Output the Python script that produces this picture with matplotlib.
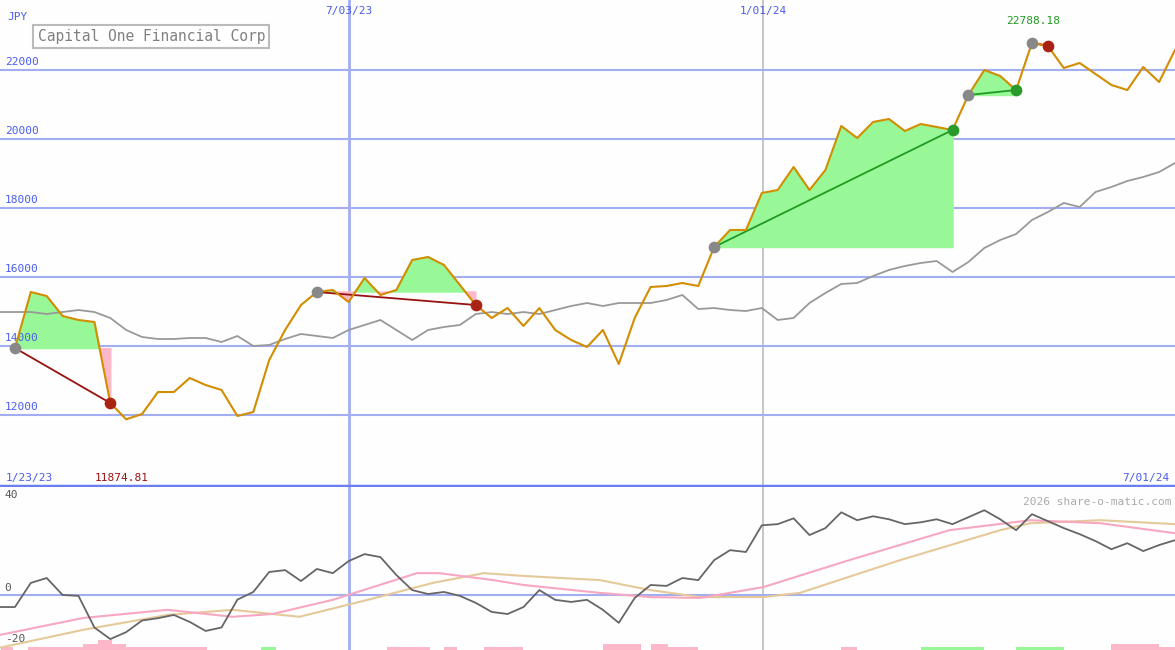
import numpy as np
import matplotlib.pyplot as plt

# weekly closes (JPY), index 0 = first plotted week
price = [13941, 15565, 15449, 14869, 14754, 14696, 12348, 11875, 12029, 12666,
         12666, 13072, 12869, 12725, 11971, 12087, 13594, 14464, 15188, 15565,
         15623, 15275, 15971, 15478, 15623, 16493, 16580, 16348, 15768, 15188,
         14812, 15101, 14580, 15101, 14464, 14174, 13971, 14464, 13478, 14812,
         15710, 15739, 15826, 15739, 16869, 17362, 17362, 18435, 18522, 19188,
         18522, 19101, 20377, 20029, 20493, 20580, 20232, 20435, 20348, 20261,
         21275, 22000, 21826, 21420, 22788, 22696, 22058, 22203, 21884, 21565,
         21420, 22087, 21652, 22580]
# moving average, index -1 .. 73
ma = [14985, 14985, 14985, 14927, 14985, 15043, 14985, 14812, 14464, 14261, 14203,
      14203, 14232, 14232, 14116, 14290, 14000, 14029, 14203, 14348, 14290,
      14232, 14464, 14609, 14754, 14464, 14174, 14464, 14551, 14609, 14927,
      14985, 14927, 14985, 14927, 15043, 15159, 15246, 15159, 15246, 15246,
      15246, 15333, 15478, 15072, 15101, 15043, 15014, 15101, 14754, 14812,
      15246, 15536, 15797, 15826, 16029, 16203, 16319, 16406, 16464, 16145,
      16435, 16840, 17072, 17246, 17652, 17884, 18145, 18029, 18464, 18609,
      18783, 18899, 19043, 19304, 19768]
# oscillator, index -1 .. 73
osc = [-5.2, -5.2, 5.2, 7.3, 0, -0.4, -14, -19, -16, -11, -10, -8.6, -11.6, -15.5,
       -14, -2, 1.3, 9.9, 10.7, 6, 11.2, 9.4, 14.6, 17.6, 16.3, 8.6, 2.1, 0.4,
       1.3, -0.4, -3.4, -7.3, -8.2, -5.2, 2.1, -2.1, -3, -2.1, -6.4, -12, -1.3,
       4.3, 3.9, 7.3, 6.4, 15, 19.3, 18.5, 30, 30.5, 33, 25.8, 28.8, 35.6, 32.2,
       33.9, 32.6, 30.5, 31.3, 32.6, 30.5, 33.5, 36.5, 32.6, 27.9, 34.8, 31.8,
       28.8, 26.2, 23.2, 19.7, 22.3, 18.9, 21.5, 23.6]
sig1_x = [-0.94, 4.3, 9.6, 13.7, 16.2, 20, 25.3, 26.7, 30.1, 32, 36.8, 40, 43.1,
          47.1, 52.5, 58.8, 63.9, 68.3, 73]
sig1 = [-17.2, -9.9, -6.4, -9.4, -8.2, -2.1, 9.4, 9.4, 6.4, 4.3, 0.9, -0.9, -1.3,
        3.4, 15, 27.9, 32.2, 30.9, 26.6]
sig2_x = [-0.94, 4.3, 9.6, 13.7, 17.9, 22.2, 26.3, 29.5, 32, 36.8, 40, 43.1, 47.1,
          49.4, 55.7, 62, 63.9, 68.3, 73]
sig2 = [-22.7, -15, -8.6, -6.4, -9.4, -2.1, 5.2, 9.4, 8.2, 6.4, 2.1, -0.9, -0.9,
        0.9, 15, 27.9, 30.9, 32.2, 30.5]
# trades: (entry index, exit index)
trades = [(0, 6), (19, 29), (44, 59), (60, 63), (64, 65)]
# histogram strip: (start, end, height, colour)
bars = [(-0.9, -0.1, 1.3, 'pink'), (0.8, 4.3, 1.3, 'pink'), (4.3, 7, 2.6, 'pink'),
        (5.2, 6.1, 4.3, 'pink'), (7, 12.1, 1.3, 'pink'), (15.5, 16.4, 1.3, 'g'),
        (23.4, 26.1, 1.3, 'pink'), (27, 27.8, 1.3, 'pink'), (29.5, 32, 1.3, 'pink'),
        (37, 39.4, 2.6, 'pink'), (40, 41.1, 2.6, 'pink'), (41.1, 43, 1.3, 'pink'),
        (52, 53, 1.3, 'pink'), (57, 61, 1.3, 'g'), (63, 66, 1.3, 'g'),
        (69, 72, 2.6, 'pink'), (72, 73, 1.3, 'pink')]

BLUE = '#4a5cf0'
GRID = '#a3adf2'
ORANGE = '#d38d00'
plt.rcParams['font.family'] = ['DejaVu Sans Mono']

fig = plt.figure(figsize=(11.75, 6.5), dpi=100, facecolor='#fdfefd')
top = fig.add_axes([0, 163 / 650, 1, 487 / 650])
bot = fig.add_axes([0, 0, 1, 163 / 650])
for ax in (top, bot):
    ax.set_facecolor('#fdfefd')
    ax.set_xlim(-0.94, 73)
    ax.axis('off')
    ax.axvline(21, color=GRID, lw=2, zorder=1)
    ax.axvline(47.1, color='#bbbbbb', lw=1.2, zorder=1)
top.set_ylim(9913, 24029)
bot.set_ylim(-23.7, 46.5)

x = np.arange(len(price))
p = np.array(price)
for lvl in range(12000, 22001, 2000):
    top.axhline(lvl, color=GRID, lw=1.5, zorder=1)
    top.text(0.004, lvl + 80, str(lvl), transform=top.get_yaxis_transform(),
             color=BLUE, fontsize=8, va='bottom')

top.plot(np.arange(-1, len(ma) - 1), ma, color='#999999', lw=1.3, zorder=3)
for a, b in trades:
    xs = x[a:b + 1]
    ys = p[a:b + 1]
    base = p[a]
    top.fill_between(xs, ys, base, where=ys >= base, interpolate=True, color='#98f898', zorder=2)
    top.fill_between(xs, ys, base, where=ys < base, interpolate=True, color='#fcb8c8', zorder=2)
    win = p[b] > base
    top.plot([a, b], [base, p[b]], color='#229922' if win else '#991111', lw=1.3, zorder=4)
    top.scatter([a], [base], s=55, color='#888888', zorder=6)
    top.scatter([b], [p[b]], s=55, color='#2a9a2a' if win else '#aa2211', zorder=6)
top.plot(x, p, color=ORANGE, lw=1.5, zorder=5)

top.text(0.006, 0.975, 'JPY', transform=top.transAxes, color=BLUE, fontsize=8, va='top')
top.text(0.032, 0.925, 'Capital One Financial Corp', transform=top.transAxes, color='#808080',
         fontsize=10.5, va='center',
         bbox=dict(boxstyle='square,pad=0.3', fc='white', ec='#bbbbbb', lw=1.5))
top.text(21, 0.988, '7/03/23', transform=top.get_xaxis_transform(), color=BLUE, fontsize=8,
         ha='center', va='top')
top.text(47.1, 0.988, '1/01/24', transform=top.get_xaxis_transform(), color=BLUE, fontsize=8,
         ha='center', va='top')
top.text(0.005, 0.012, '1/23/23', transform=top.transAxes, color=BLUE, fontsize=8)
top.text(0.995, 0.012, '7/01/24', transform=top.transAxes, color=BLUE, fontsize=8, ha='right')
top.text(0.081, 0.012, '11874.81', transform=top.transAxes, color='#991111', fontsize=8)
top.text(64.1, 0.95, '22788.18', transform=top.get_xaxis_transform(), color='#229922',
         fontsize=8, ha='center')
top.axhline(9913 + 30, color='#6a7ef0', lw=2.5, zorder=7)

bot.axhline(0, color=GRID, lw=1.5, zorder=1)
for lvl, lab in ((40, '40'), (0, '0'), (-20, '-20')):
    bot.text(0.004, lvl + 1, lab, transform=bot.get_yaxis_transform(), color='#555555',
             fontsize=8, va='bottom' if lvl > -20 else 'center')
bot.text(0.997, 0.94, '2026 share-o-matic.com', transform=bot.transAxes, color='#aaaaaa',
         fontsize=8, ha='right', va='top')
for s, e, h, c in bars:
    bot.bar(s, h, width=e - s, bottom=-23.7, align='edge',
            color='#98f898' if c == 'g' else '#fcb8c8', zorder=2)
bot.plot(sig2_x, sig2, color='#e5c99a', lw=1.5, zorder=3)
bot.plot(sig1_x, sig1, color='#f7a8c0', lw=1.5, zorder=3)
bot.plot(np.arange(-1, len(osc) - 1), osc, color='#666666', lw=1.3, zorder=4)

fig.savefig('out.png', dpi=100, facecolor=fig.get_facecolor())
